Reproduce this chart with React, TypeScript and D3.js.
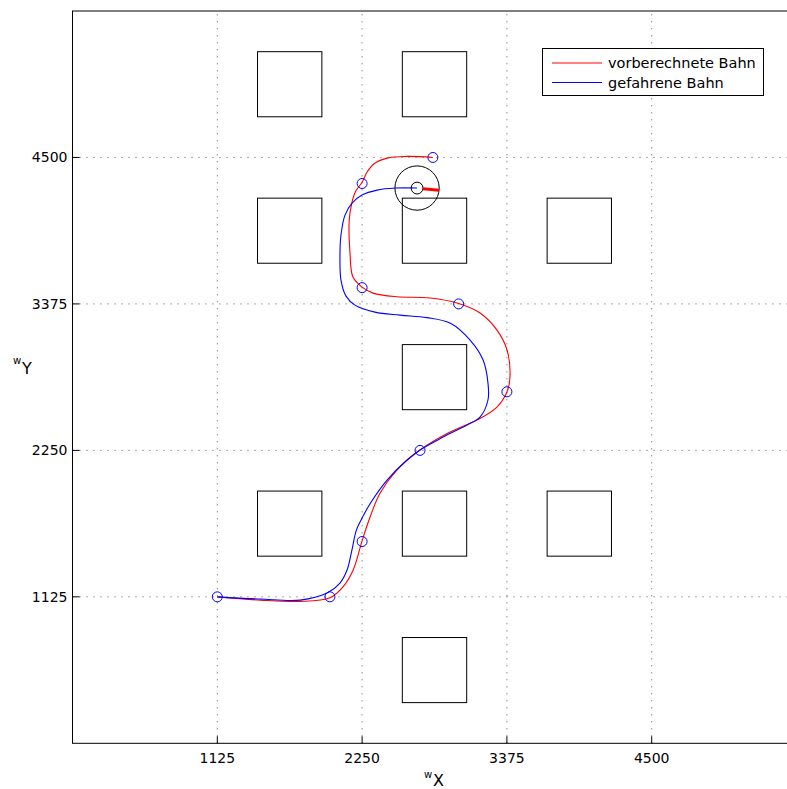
import * as d3 from "d3"
import React from "react"

// world coordinates (mm)
const ticks = [1125, 2250, 3375, 4500]
const obstacleX = [1687.5, 2812.5, 1687.5, 2812.5, 3937.5, 2812.5, 1687.5, 2812.5, 3937.5, 2812.5]
const obstacleY = [5062.5, 5062.5, 3937.5, 3937.5, 3937.5, 2812.5, 1687.5, 1687.5, 1687.5, 562.5]
const obstacleSize = 500

const waypointX = [1125, 2000, 2250, 2700, 3375, 3000, 2250, 2250, 2800]
const waypointY = [1125, 1125, 1550, 2250, 2700, 3375, 3500, 4300, 4500]

const plannedX = [1125, 1460, 1770, 2000, 2100, 2180, 2250, 2312, 2390, 2520, 2700, 2918, 3143, 3298, 3376, 3399, 3376, 3298, 3166, 3000, 2778, 2521, 2335, 2250, 2179, 2156, 2150, 2170, 2200, 2250, 2290, 2340, 2444, 2600, 2800]
const plannedY = [1125, 1100, 1090, 1118, 1200, 1330, 1555, 1738, 1922, 2099, 2253, 2383, 2483, 2583, 2700, 2813, 3021, 3174, 3305, 3378, 3420, 3430, 3458, 3504, 3581, 3765, 4019, 4150, 4240, 4310, 4390, 4450, 4495, 4508, 4500]

const drivenX = [1125, 1460, 1770, 1977, 2078, 2133, 2170, 2205, 2255, 2318, 2444, 2599, 2700, 2879, 3065, 3166, 3228, 3228, 3190, 3089, 2940, 2754, 2545, 2350, 2195, 2125, 2086, 2078, 2086, 2117, 2172, 2249, 2366, 2506, 2677]
const drivenY = [1125, 1108, 1100, 1154, 1231, 1331, 1480, 1636, 1740, 1850, 2022, 2176, 2253, 2352, 2445, 2506, 2637, 2767, 2944, 3097, 3225, 3270, 3289, 3312, 3366, 3435, 3558, 3750, 3904, 4057, 4149, 4211, 4249, 4265, 4265]

const robotX = 2677
const robotY = 4265
const robotRadius = 172
const robotInner = 46
const robotHeading = -0.1

const legendLabels = ["vorberechnete Bahn", "gefahrene Bahn"]
const legendColors = ["#ff0000", "#0000ff"]

export default function App() {
  const W = 787
  const H = 789
  const x = d3.scaleLinear().domain([0, 5625]).range([72.5, 796.5])
  const y = d3.scaleLinear().domain([0, 5625]).range([743.3, 11])
  const [x0, x1] = x.range()
  const [y0, y1] = y.range()

  const planned = d3.line<number>().curve(d3.curveCatmullRom.alpha(0.5))
    .x((d, i) => x(plannedX[i])).y((d, i) => y(plannedY[i]))(plannedX)
  const driven = d3.line<number>().curve(d3.curveCatmullRom.alpha(0.5))
    .x((d, i) => x(drivenX[i])).y((d, i) => y(drivenY[i]))(drivenX)

  const pxPerUnit = x(1) - x(0)
  const font = "DejaVu Sans, sans-serif"

  return (
    <svg width={W} height={H} style={{ position: "absolute", left: 0, top: 0, display: "block", background: "#fff" }} fontFamily={font}>
      <rect width={W} height={H} fill="#fff" />
      {/* grid */}
      {ticks.map(t => (
        <g key={t}>
          <line x1={x(t)} x2={x(t)} y1={y0} y2={y1} stroke="#555" strokeDasharray="1 6" />
          <line x1={x0} x2={x1} y1={y(t)} y2={y(t)} stroke="#555" strokeDasharray="1 6" />
          <line x1={x(t)} x2={x(t)} y1={y0} y2={y0 - 7} stroke="#000" />
          <line x1={x0} x2={x0 + 7} y1={y(t)} y2={y(t)} stroke="#000" />
          <text x={x(t)} y={y0 + 20} textAnchor="middle" fontSize={14}>{t}</text>
          <text x={x0 - 5} y={y(t) + 5} textAnchor="end" fontSize={14}>{t}</text>
        </g>
      ))}
      {/* obstacles */}
      {obstacleX.map((ox, i) => (
        <rect key={i}
          x={x(ox - obstacleSize / 2)} y={y(obstacleY[i] + obstacleSize / 2)}
          width={x(ox + obstacleSize / 2) - x(ox - obstacleSize / 2)}
          height={y(obstacleY[i] - obstacleSize / 2) - y(obstacleY[i] + obstacleSize / 2)}
          fill="none" stroke="#000" strokeWidth={1} />
      ))}
      {/* paths */}
      <path d={planned || ""} fill="none" stroke="#ff0000" strokeWidth={1.1} />
      <path d={driven || ""} fill="none" stroke="#0000ff" strokeWidth={1.1} />
      {waypointX.map((wx, i) => (
        <circle key={i} cx={x(wx)} cy={y(waypointY[i])} r={5} fill="none" stroke="#0000ff" strokeWidth={1} />
      ))}
      {/* robot */}
      <circle cx={x(robotX)} cy={y(robotY)} r={robotRadius * pxPerUnit} fill="none" stroke="#000" />
      <circle cx={x(robotX)} cy={y(robotY)} r={robotInner * pxPerUnit} fill="none" stroke="#000" />
      <line
        x1={x(robotX + robotInner * Math.cos(robotHeading))} y1={y(robotY + robotInner * Math.sin(robotHeading))}
        x2={x(robotX + robotRadius * Math.cos(robotHeading))} y2={y(robotY + robotRadius * Math.sin(robotHeading))}
        stroke="#ff0000" strokeWidth={3} />
      {/* frame */}
      <rect x={x0} y={y1} width={x1 - x0} height={y0 - y1} fill="none" stroke="#000" />
      {/* axis labels */}
      <text x={424} y={778} fontSize={10}>w</text>
      <text x={433} y={786} fontSize={16}>X</text>
      <text x={13} y={364} fontSize={10}>w</text>
      <text x={22} y={374} fontSize={16}>Y</text>
      {/* legend */}
      <rect x={542.5} y={48.5} width={221} height={47} fill="#fff" stroke="#000" />
      {legendLabels.map((l, i) => (
        <g key={l}>
          <line x1={552} x2={602} y1={63 + i * 19.5} y2={63 + i * 19.5} stroke={legendColors[i]} />
          <text x={608} y={68 + i * 19.5} fontSize={14.5}>{l}</text>
        </g>
      ))}
    </svg>
  )
}
